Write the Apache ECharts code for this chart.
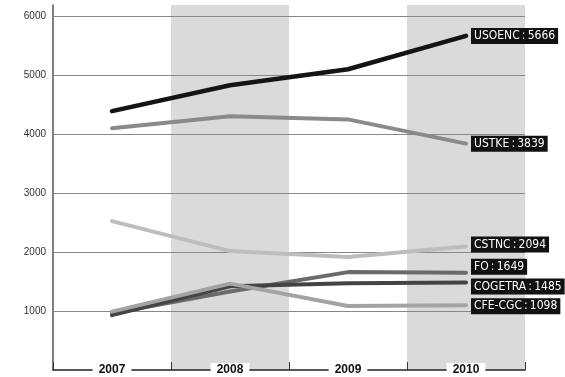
<!DOCTYPE html>
<html>
<head>
<meta charset="utf-8">
<script src="https://cdn.jsdelivr.net/npm/echarts@6/dist/echarts.min.js"></script>
<style>
  html, body { margin: 0; padding: 0; background: #fff; }
  #chart { width: 565px; height: 377px; }
</style>
</head>
<body>
<div id="chart"></div>
<script>
// années
const years = ["2007", "2008", "2009", "2010"];

// valeurs par syndicat
const usoenc = [4390, 4830, 5100, 5666];
const ustke = [4100, 4305, 4250, 3839];
const cstnc = [2525, 2017, 1915, 2094];
const fo = [960, 1330, 1660, 1649];
const cogetra = [930, 1420, 1470, 1485];
const cfeCgc = [990, 1465, 1085, 1098];

// bandes grisées (2008 et 2010) et lignes de repère
const bandTop = [null, 6190, null, 6190];
const gridValues = [1000, 2000, 3000, 4000, 5000, 6000];

const labelFont = "'DejaVu Sans Condensed', 'Liberation Sans Narrow', sans-serif";

const chart = echarts.init(document.getElementById("chart"));

function lineSeries(name, data, color, width, dy) {
  return {
    name: name,
    type: "line",
    data: data,
    z: 3,
    symbol: "none",
    silent: true,
    lineStyle: { color: color, width: width, cap: "round", join: "round" },
    endLabel: {
      show: true,
      distance: 5,
      offset: [0, dy],
      formatter: (p) => p.seriesName + "\u2009:\u2009" + p.value,
      color: "#fff",
      backgroundColor: "#111",
      fontFamily: labelFont,
      fontSize: 12,
      lineHeight: 13,
      padding: [2, 3, 1, 3],
    },
  };
}

const option = {
  animation: false,
  backgroundColor: "#fff",
  grid: { left: 53, right: 40, top: 5, bottom: 7 },
  xAxis: {
    type: "category",
    data: years,
    boundaryGap: true,
    axisLine: { lineStyle: { color: "#222", width: 1.5 } },
    axisTick: { show: true, inside: true, length: 8, lineStyle: { color: "#333" } },
    axisLabel: {
      margin: 0,
      verticalAlign: "middle",
      color: "#111",
      fontWeight: "bold",
      fontSize: 12,
      fontFamily: "Arial, 'Liberation Sans', sans-serif",
      backgroundColor: "#fff",
      padding: [1, 6, 1, 6],
    },
    splitLine: { show: false },
  },
  yAxis: {
    type: "value",
    min: 0,
    max: 6190,
    interval: 1000,
    axisLine: { show: true, lineStyle: { color: "#555", width: 1.5 } },
    axisTick: { show: false },
    axisLabel: {
      margin: 7,
      color: "#333",
      fontSize: 10,
      fontFamily: "Arial, 'Liberation Sans', sans-serif",
      formatter: (v) => (v > 0 && v % 1000 === 0 ? String(v) : ""),
    },
    splitLine: { show: false },
  },
  series: [
    {
      name: "bandes",
      type: "bar",
      data: bandTop,
      barWidth: "100%",
      barCategoryGap: 0,
      z: -1,
      silent: true,
      itemStyle: { color: "#dadada" },
      markLine: {
        silent: true,
        symbol: "none",
        z: 1,
        label: { show: false },
        lineStyle: { color: "#888", width: 1, type: "solid" },
        data: gridValues.map((v) => ({ yAxis: v })),
      },
    },
    lineSeries("USOENC", usoenc, "#141414", 4.5, 0),
    lineSeries("USTKE", ustke, "#8a8a8a", 4, 0),
    lineSeries("CSTNC", cstnc, "#bdbdbd", 4, -2),
    lineSeries("FO", fo, "#6a6a6a", 4, -6),
    lineSeries("COGETRA", cogetra, "#444", 4, 4),
    lineSeries("CFE-CGC", cfeCgc, "#a3a3a3", 4, 1),
  ],
};

chart.setOption(option);
</script>
</body>
</html>
